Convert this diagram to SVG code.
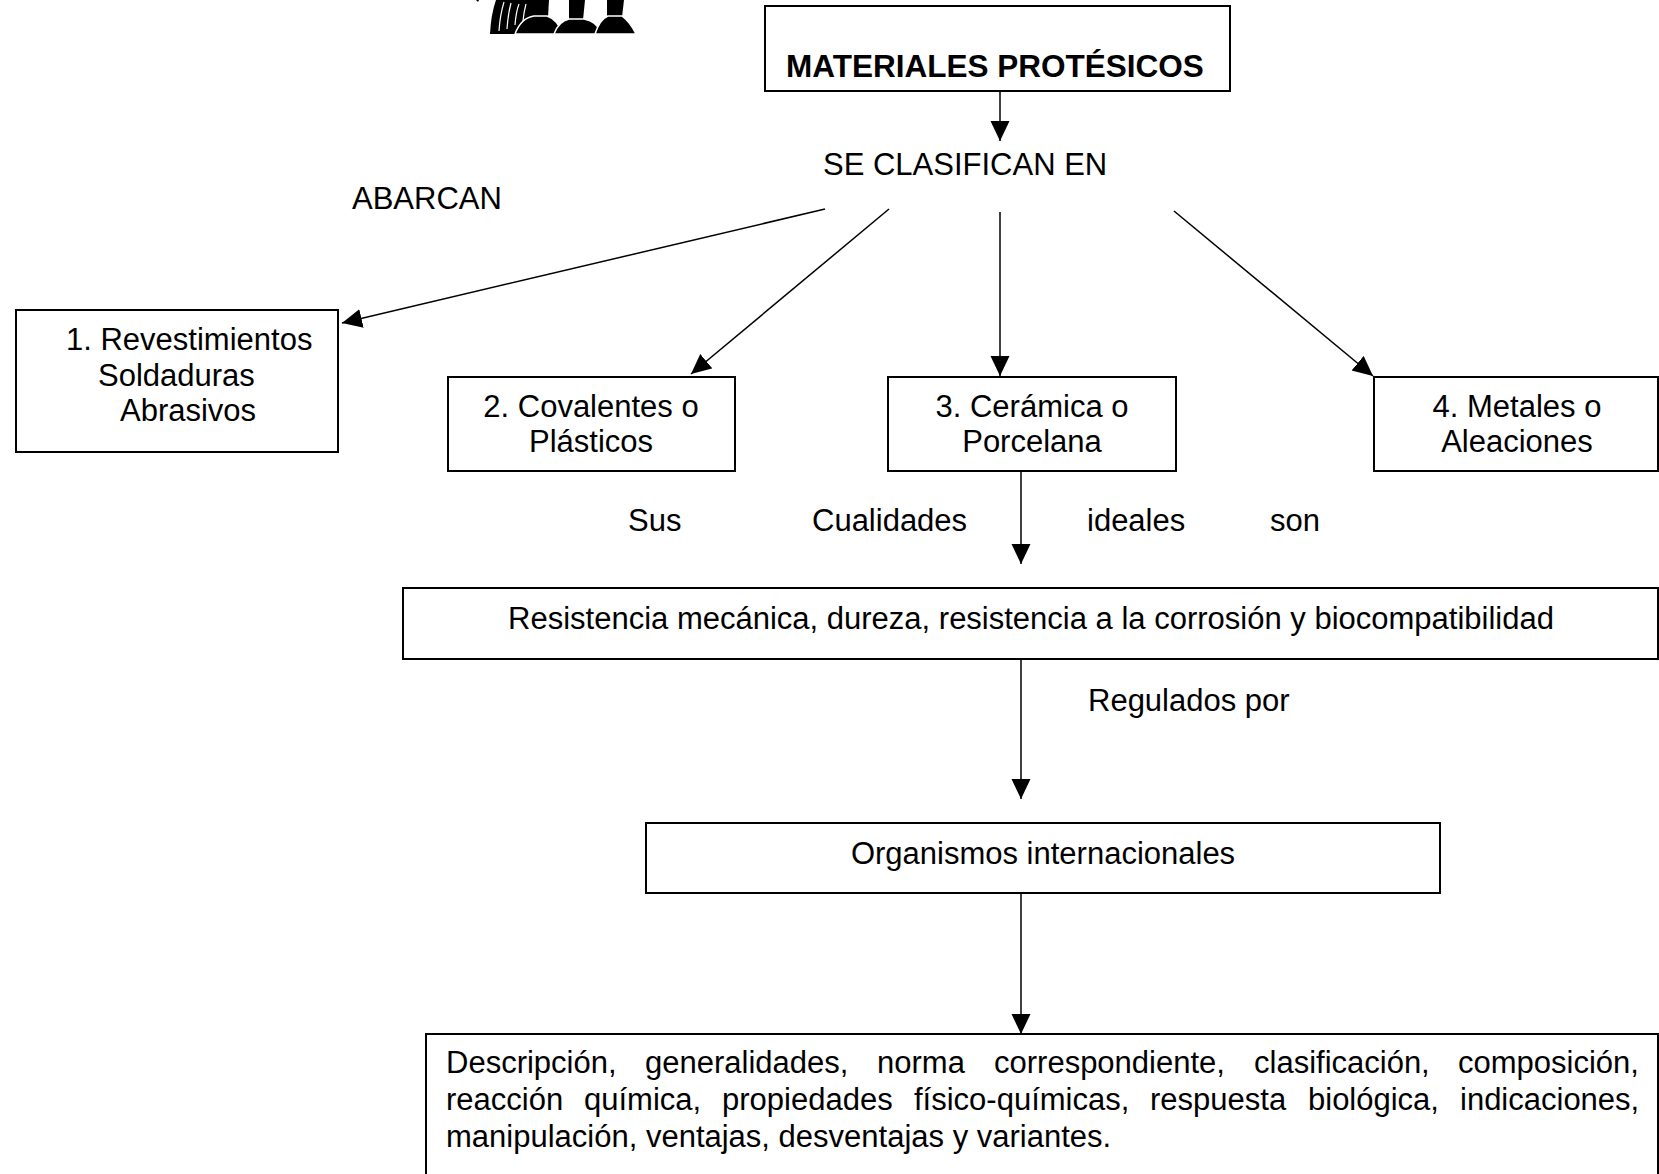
<svg xmlns="http://www.w3.org/2000/svg" width="1659" height="1174" viewBox="0 0 1659 1174">
  <defs>
    <style>
      text { font-family: "Liberation Sans", Arial, sans-serif; font-size: 31px; fill: #000; }
      .title { font-weight: bold; font-size: 31.5px; }
      .mid { text-anchor: middle; }
      .box { fill: #fff; stroke: #000; stroke-width: 2; }
      .link { fill: none; stroke: #000; stroke-width: 1.5; }
    </style>
    <marker id="arrow" markerUnits="userSpaceOnUse" markerWidth="21" markerHeight="20" refX="20" refY="9.5" orient="auto">
      <path d="M0,0 L20,9.5 L0,19 Z" fill="#000"/>
    </marker>
  </defs>

  <rect width="1659" height="1174" fill="#fff"/>

  <!-- clip-art silhouette at the top edge -->
  <g id="clipart" fill="#000">
    <path d="M476,0 L479,0 L478,2 Z"/>
    <path d="M496,0 L532,0 L532,20 Q524,24 516,34 L490,34 Q491,14 496,0 Z"/>
    <g stroke="#fff" stroke-width="1.2" fill="none">
      <path d="M499,31 Q500,15 504,2"/>
      <path d="M507,29 Q508,14 511,3"/>
      <path d="M515,25 Q516,12 519,4"/>
      <path d="M523,21 Q524,11 526,4"/>
    </g>
    <path d="M532,0 L549,0 L548,17 L532,17 Z"/>
    <path d="M569,0 L585,0 L583,20 L569,20 Z"/>
    <path d="M607,0 L624,0 L622,17 L607,17 Z"/>
    <path d="M515,34 Q521,18 534,16 L547,16 Q557,19 563,34 Z" stroke="#fff" stroke-width="1.5"/>
    <path d="M554,34 Q559,21 569,19 L584,19 Q597,21 602,34 Z" stroke="#fff" stroke-width="1.5"/>
    <path d="M595,34 Q600,19 608,16 L622,16 Q630,22 636,34 Z" stroke="#fff" stroke-width="1.5"/>
  </g>

  <!-- connectors -->
  <g id="connectors">
    <line class="link" x1="1000" y1="92" x2="1000" y2="141" marker-end="url(#arrow)"/>
    <line class="link" x1="825" y1="209" x2="342" y2="323" marker-end="url(#arrow)"/>
    <line class="link" x1="889" y1="209" x2="691" y2="374" marker-end="url(#arrow)"/>
    <line class="link" x1="1000" y1="212" x2="1000" y2="376" marker-end="url(#arrow)"/>
    <line class="link" x1="1174" y1="211" x2="1373" y2="376" marker-end="url(#arrow)"/>
    <line class="link" x1="1021" y1="472" x2="1021" y2="564" marker-end="url(#arrow)"/>
    <line class="link" x1="1021" y1="659" x2="1021" y2="799" marker-end="url(#arrow)"/>
    <line class="link" x1="1021" y1="894" x2="1021" y2="1034" marker-end="url(#arrow)"/>
  </g>

  <!-- connector labels -->
  <g id="labels">
    <text x="823" y="175">SE CLASIFICAN EN</text>
    <text x="352" y="209">ABARCAN</text>
    <text x="628" y="531">Sus</text>
    <text x="812" y="531">Cualidades</text>
    <text x="1087" y="531">ideales</text>
    <text x="1270" y="531">son</text>
    <text x="1088" y="711">Regulados por</text>
  </g>

  <g id="materiales">
    <rect class="box" x="765" y="6" width="465" height="85"/>
    <text class="title" x="786" y="77">MATERIALES PROTÉSICOS</text>
  </g>

  <g id="revestimientos">
    <rect class="box" x="16" y="310" width="322" height="142"/>
    <text x="66" y="350">1. Revestimientos</text>
    <text x="98" y="386">Soldaduras</text>
    <text x="120" y="421">Abrasivos</text>
  </g>

  <g id="covalentes">
    <rect class="box" x="448" y="377" width="287" height="94"/>
    <text class="mid" x="591" y="417">2. Covalentes o</text>
    <text class="mid" x="591" y="452">Plásticos</text>
  </g>

  <g id="ceramica">
    <rect class="box" x="888" y="377" width="288" height="94"/>
    <text class="mid" x="1032" y="417">3. Cerámica o</text>
    <text class="mid" x="1032" y="452">Porcelana</text>
  </g>

  <g id="metales">
    <rect class="box" x="1374" y="377" width="284" height="94"/>
    <text class="mid" x="1517" y="417">4. Metales o</text>
    <text class="mid" x="1517" y="452">Aleaciones</text>
  </g>

  <g id="cualidades">
    <rect class="box" x="403" y="588" width="1255" height="71"/>
    <text class="mid" x="1031" y="629">Resistencia mecánica, dureza, resistencia a la corrosión y biocompatibilidad</text>
  </g>

  <g id="organismos">
    <rect class="box" x="646" y="823" width="794" height="70"/>
    <text class="mid" x="1043" y="864">Organismos internacionales</text>
  </g>

  <g id="contenido">
    <path class="box" d="M426,1180 V1034 H1658 V1180"/>
    <text y="1073">
      <tspan x="446">Descripción,</tspan>
      <tspan x="645">generalidades,</tspan>
      <tspan x="877">norma</tspan>
      <tspan x="994">correspondiente,</tspan>
      <tspan x="1254">clasificación,</tspan>
      <tspan x="1458">composición,</tspan>
    </text>
    <text y="1110">
      <tspan x="446">reacción</tspan>
      <tspan x="584">química,</tspan>
      <tspan x="722">propiedades</tspan>
      <tspan x="914">físico-químicas,</tspan>
      <tspan x="1150">respuesta</tspan>
      <tspan x="1308">biológica,</tspan>
      <tspan x="1460">indicaciones,</tspan>
    </text>
    <text x="446" y="1147">manipulación, ventajas, desventajas y variantes.</text>
  </g>
</svg>
